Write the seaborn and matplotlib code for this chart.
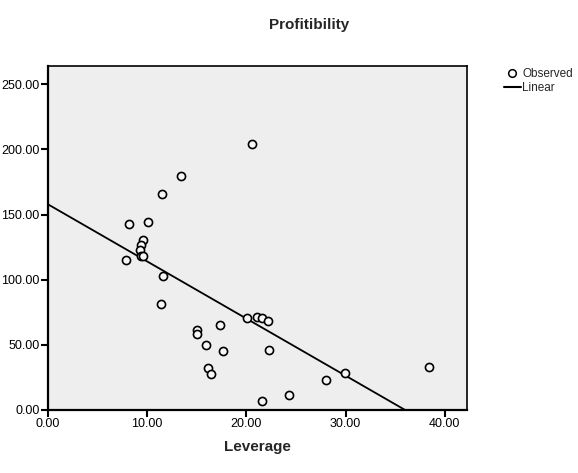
import seaborn as sns
import matplotlib.pyplot as plt
import pandas as pd
from matplotlib.lines import Line2D

# values
leverage = [20.6, 13.4, 11.5, 8.2, 10.1, 9.6, 9.4, 9.3, 9.4, 9.6,
            7.9, 11.6, 11.4, 20.1, 21.1, 21.6, 22.2, 17.3, 15.0, 15.0,
            15.9, 17.6, 22.3, 16.1, 16.4, 28.0, 24.3, 21.6, 29.9, 38.4]
profitability = [204.0, 179.3, 166.0, 143.0, 144.3, 130.3, 126.7, 122.9, 118.3, 118.1,
                 114.7, 102.5, 81.3, 70.6, 71.4, 70.1, 68.0, 65.2, 61.4, 57.8,
                 49.4, 45.3, 45.6, 32.3, 27.4, 22.4, 10.9, 6.7, 28.5, 33.1]
x_ticks = [0, 10, 20, 30, 40]
y_ticks = [0, 50, 100, 150, 200, 250]

df = pd.DataFrame({'Leverage': leverage, 'Profitibility': profitability})

sns.set_style('white')
plt.rcParams['font.family'] = ['Liberation Sans', 'DejaVu Sans']

fig = plt.figure(figsize=(5.78, 4.73), dpi=100)
ax = fig.add_axes([0.0830, 0.1340, 0.7244, 0.7260])
ax.set_facecolor('#eeeeee')
ax.set_xlim(0, 42.2)
ax.set_ylim(0, 264)

sns.regplot(data=df, x='Leverage', y='Profitibility', ax=ax, ci=None, truncate=False,
            scatter_kws={'s': 34, 'facecolors': '#f7f7f7', 'edgecolors': 'black',
                         'linewidths': 1.2, 'alpha': 1, 'zorder': 3},
            line_kws={'color': 'black', 'lw': 1.3, 'zorder': 2})
ax.set_xlim(0, 42.2)
ax.set_ylim(0, 264)

ax.set_xticks(x_ticks)
ax.set_yticks(y_ticks)
ax.set_xticklabels([f'{v:.2f}' for v in x_ticks])
ax.set_yticklabels([f'{v:.2f}' for v in y_ticks])
ax.tick_params(axis='both', direction='out', length=5, width=1.5, labelsize=9,
               colors='black', pad=1, bottom=True, left=True)
for sp in ax.spines.values():
    sp.set_color('black')
    sp.set_linewidth(1.2)
ax.spines['left'].set_linewidth(1.6)
ax.spines['bottom'].set_linewidth(1.6)

ax.set_xlabel('Leverage', fontsize=11, fontweight='bold', labelpad=7)
ax.set_ylabel('')
fig.text(0.535, 0.947, 'Profitibility', ha='center', va='center', fontsize=11, fontweight='bold')

handles = [Line2D([], [], marker='o', linestyle='none', markerfacecolor='white',
                  markeredgecolor='black', markersize=5.5, markeredgewidth=1.1),
           Line2D([], [], color='black', lw=1.5)]
fig.legend(handles, ['Observed', 'Linear'], loc='upper left', frameon=False,
           bbox_to_anchor=(0.864, 0.866), fontsize=8.5, handlelength=1.4,
           handletextpad=0.15, labelspacing=0.2, borderaxespad=0)

fig.savefig('out.png', dpi=100)
